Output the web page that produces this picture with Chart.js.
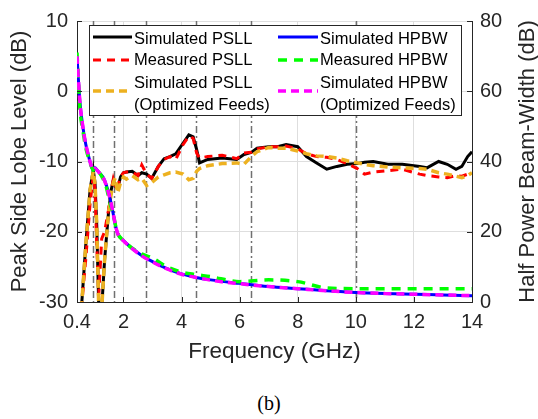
<!DOCTYPE html>
<html>
<head>
<meta charset="utf-8">
<script src="https://cdn.jsdelivr.net/npm/chart.js@4.4.1/dist/chart.umd.min.js"></script>
<style>
  html, body { margin: 0; padding: 0; background: #fff; }
  #wrap { position: absolute; left: 0; top: 0; width: 538px; height: 380px; }
  #caption { position: absolute; left: 0; top: 392px; width: 538px; text-align: center;
             font-family: "Liberation Serif", "DejaVu Serif", serif; font-size: 20px; color: #000; }
</style>
</head>
<body>
<div id="wrap"><canvas id="chart"></canvas></div>
<div id="caption">(b)</div>
<script>
// frequency axis (GHz)
const xTicks = [0.4, 2, 4, 6, 8, 10, 12, 14];
const psllTicks = [-30, -20, -10, 0, 10];
const hpbwTicks = [0, 20, 40, 60, 80];
const markerFreqs = [0.96, 1.66, 2.76, 4.5, 6.4, 10];

// PSLL series (dB)
const psllFreq = [0.55, 0.7, 0.85, 0.96, 1.02, 1.08, 1.15, 1.25, 1.35, 1.48, 1.58, 1.65, 1.72, 1.8, 1.9,
  2.0, 2.1, 2.3, 2.5, 2.63, 2.8, 2.97, 3.2, 3.4, 3.6, 3.8, 4.05, 4.25, 4.4, 4.52, 4.62, 4.9, 5.4,
  5.9, 6.15, 6.4, 6.6, 7.0, 7.3, 7.6, 8.0, 8.3, 8.65, 9.0, 9.35, 9.7, 10.05, 10.3, 10.6, 11.1,
  11.6, 12.2, 12.45, 12.85, 13.15, 13.45, 13.65, 13.85, 14];
const simPsll = [-31, -22, -14, -11.2, -13, -19, -31, -31, -24, -17.5, -14, -12.7, -13.5, -13.8, -12.2,
  -11.6, -11.5, -11.4, -12.0, -11.6, -11.8, -12.4, -10.7, -9.6, -9.3, -8.9, -7.4, -6.2, -6.5, -8.3, -10.2, -9.7, -9.5,
  -9.7, -9.0, -8.7, -8.1, -7.9, -7.9, -7.6, -7.9, -9.3, -10.2, -11.1, -10.7, -10.4, -10.3, -10.1, -10.0, -10.4,
  -10.4, -10.7, -10.9, -10.0, -10.4, -11.1, -10.7, -9.3, -8.6];
const measPsll = [-31, -24, -16, -12, -14, -22, -29, -21, -20, -17, -14, -12.5, -13.5, -13.5, -12.2,
  -11.6, -11.5, -11.5, -12.0, -10.5, -11.8, -12.4, -10.7, -9.7, -9.3, -9.7, -7.6, -6.4, -6.7, -8.8, -9.5, -9.3, -9.1,
  -9.6, -8.8, -8.7, -8.2, -7.9, -7.9, -7.8, -8.2, -8.9, -9.3, -9.4, -9.7, -10.3, -11.0, -11.8, -11.5, -11.3,
  -11.1, -11.8, -12.0, -12.2, -12.3, -12.0, -12.1, -11.8, -11.6];
const optPsll = [-31, -22, -14, -11.4, -13.2, -19, -31, -31, -24, -17.5, -14.5, -13.0, -12.3, -14.5, -13.0,
  -12.2, -12.5, -12.0, -12.6, -12.4, -13.4, -13.0, -12.2, -11.9, -11.6, -11.5, -11.8, -12.6, -12.4, -11.4, -11.0, -10.6, -10.3,
  -10.2, -10.4, -9.3, -8.6, -8.0, -8.1, -8.1, -8.5, -8.9, -9.2, -9.3, -9.5, -9.9, -10.2, -10.4, -10.6, -10.8,
  -10.9, -11.0, -11.1, -11.6, -11.8, -12.1, -12.3, -12.0, -11.6];

// HPBW series (deg)
const hpbwFreq = [0.4, 0.5, 0.6, 0.7, 0.8, 0.9, 0.96, 1.02, 1.1, 1.2, 1.3, 1.4, 1.54, 1.65, 1.72, 1.8,
  2.0, 2.3, 2.6, 3.0, 3.5, 4.0, 4.5, 5.0, 6.0, 7.0, 8.0, 9.0, 10.0, 11.0, 12.0, 13.0, 14.0];
const simHpbw = [70, 57, 50, 45, 41.5, 38.5, 37.5, 38.2, 37.5, 36.5, 35.5, 33.5, 29.4, 25, 22, 19.5,
  17.5, 15.3, 13.4, 11.5, 9.5, 8.0, 7.0, 6.3, 5.3, 4.4, 3.8, 3.2, 2.7, 2.4, 2.2, 2.0, 1.8];
const measHpbw = [71, 55, 49, 44, 41, 38.5, 37.5, 36.5, 37, 36.5, 35, 33, 28, 25, 22, 19.5,
  17.5, 15.3, 13.8, 12.5, 10, 8.5, 7.8, 7.2, 5.8, 6.3, 5.8, 4.0, 3.8, 3.8, 3.8, 3.8, 3.8];
const optHpbw = [70, 57, 50, 45, 41.5, 38.6, 37.6, 38.0, 37.4, 36.4, 35.4, 33.4, 29.3, 25, 22, 19.5,
  17.4, 15.2, 13.3, 11.4, 9.4, 7.9, 7.0, 6.2, 5.2, 4.4, 3.8, 3.2, 2.7, 2.4, 2.2, 2.0, 1.8];

const pts = (xs, ys) => xs.map((x, i) => ({ x: x, y: ys[i] }));
const axisColor = '#262626';
const sans = '"Liberation Sans", Arial, sans-serif';

const chartPlugin = {
  id: 'matlabDecor',
  beforeDatasetsDraw(chart) {
    const { ctx, chartArea: a, scales } = chart;
    ctx.save();
    ctx.beginPath();
    ctx.rect(a.left, a.top, a.right - a.left, a.bottom - a.top);
    ctx.clip();
    ctx.strokeStyle = '#707070';
    ctx.lineWidth = 1.5;
    ctx.setLineDash([7, 3, 2, 3]);
    markerFreqs.forEach(f => {
      const px = Math.round(scales.x.getPixelForValue(f)) + 0.5;
      ctx.beginPath();
      ctx.moveTo(px, a.top);
      ctx.lineTo(px, a.bottom);
      ctx.stroke();
    });
    ctx.restore();
  },
  afterDraw(chart) {
    const { ctx, chartArea: a, scales } = chart;
    ctx.save();
    // inward tick marks
    ctx.strokeStyle = axisColor;
    ctx.lineWidth = 1;
    xTicks.forEach(v => {
      const px = Math.round(scales.x.getPixelForValue(v)) + 0.5;
      ctx.beginPath(); ctx.moveTo(px, a.bottom); ctx.lineTo(px, a.bottom - 5); ctx.stroke();
    });
    psllTicks.forEach(v => {
      const py = Math.round(scales.y.getPixelForValue(v)) + 0.5;
      ctx.beginPath(); ctx.moveTo(a.left, py); ctx.lineTo(a.left + 5, py); ctx.stroke();
    });
    hpbwTicks.forEach(v => {
      const py = Math.round(scales.y1.getPixelForValue(v)) + 0.5;
      ctx.beginPath(); ctx.moveTo(a.right, py); ctx.lineTo(a.right - 5, py); ctx.stroke();
    });

    // right axis title, reading bottom to top
    ctx.fillStyle = axisColor;
    ctx.font = '22px ' + sans;
    ctx.textAlign = 'center';
    ctx.textBaseline = 'middle';
    ctx.translate(528, (a.top + a.bottom) / 2);
    ctx.rotate(-Math.PI / 2);
    ctx.fillText('Half Power Beam-Width (dB)', 0, 0);
    ctx.restore();

    // legend box
    ctx.save();
    const box = { l: 89.5, t: 25.5, r: 461.5, b: 115.5 };
    ctx.fillStyle = '#fff';
    ctx.fillRect(box.l, box.t, box.r - box.l, box.b - box.t);
    ctx.strokeStyle = '#262626';
    ctx.lineWidth = 1;
    ctx.strokeRect(box.l, box.t, box.r - box.l, box.b - box.t);
    const cols = [{ s0: 93, s1: 132, tx: 134 }, { s0: 278, s1: 318, tx: 320 }];
    const rows = [{ line: 37, text: [39] }, { line: 60, text: [60.5] }, { line: 91, text: [83, 105] }];
    ctx.font = '16.5px ' + sans;
    ctx.textAlign = 'left';
    ctx.textBaseline = 'middle';
    chart.data.datasets.forEach((ds, i) => {
      const c = cols[Math.floor(i / 3)], r = rows[i % 3];
      ctx.strokeStyle = ds.borderColor;
      ctx.lineWidth = ds.borderWidth;
      ctx.setLineDash(ds.borderDash || []);
      ctx.beginPath(); ctx.moveTo(c.s0, r.line); ctx.lineTo(c.s1, r.line); ctx.stroke();
      ctx.fillStyle = '#000';
      const lines = Array.isArray(ds.label) ? ds.label : [ds.label];
      lines.forEach((t, k) => ctx.fillText(t, c.tx, r.text[k]));
    });
    ctx.restore();
  }
};

new Chart(document.getElementById('chart'), {
  type: 'line',
  data: {
    datasets: [
      { label: 'Simulated PSLL', data: pts(psllFreq, simPsll), yAxisID: 'y',
        borderColor: '#000000', borderWidth: 3, order: 6 },
      { label: 'Measured PSLL', data: pts(psllFreq, measPsll), yAxisID: 'y',
        borderColor: '#ff0000', borderWidth: 3, borderDash: [8, 6], order: 5 },
      { label: ['Simulated PSLL', '(Optimized Feeds)'], data: pts(psllFreq, optPsll), yAxisID: 'y',
        borderColor: '#edb120', borderWidth: 3.5, borderDash: [8, 5], order: 4 },
      { label: 'Simulated HPBW', data: pts(hpbwFreq, simHpbw), yAxisID: 'y1',
        borderColor: '#0000ff', borderWidth: 3, order: 3, cubicInterpolationMode: 'monotone' },
      { label: 'Measured HPBW', data: pts(hpbwFreq, measHpbw), yAxisID: 'y1',
        borderColor: '#00ff00', borderWidth: 3.5, borderDash: [9, 7], order: 2, cubicInterpolationMode: 'monotone' },
      { label: ['Simulated HPBW', '(Optimized Feeds)'], data: pts(hpbwFreq, optHpbw), yAxisID: 'y1',
        borderColor: '#ff00ff', borderWidth: 3.5, borderDash: [8, 5], order: 1, cubicInterpolationMode: 'monotone' }
    ]
  },
  options: {
    responsive: true,
    maintainAspectRatio: false,
    animation: false,
    layout: { padding: { top: 15, left: 0, right: 0, bottom: 0 } },
    elements: { point: { radius: 0 }, line: { tension: 0 } },
    datasets: { line: { clip: 0 } },
    plugins: { legend: { display: false }, tooltip: { enabled: false } },
    scales: {
      x: {
        type: 'linear', min: 0.4, max: 14,
        afterBuildTicks: s => { s.ticks = xTicks.map(v => ({ value: v })); },
        afterFit: s => { s.height = 78; },
        grid: { color: '#dedede', drawTicks: false },
        border: { color: axisColor, width: 1 },
        ticks: { color: axisColor, font: { family: sans, size: 20 }, padding: 8, maxRotation: 0,
                 callback: v => String(v) },
        title: { display: true, text: 'Frequency (GHz)', color: axisColor,
                 font: { family: sans, size: 22.5 }, padding: { bottom: 15 } }
      },
      y: {
        position: 'left', min: -30, max: 10,
        afterBuildTicks: s => { s.ticks = psllTicks.map(v => ({ value: v })); },
        afterFit: s => { s.width = 77; },
        grid: { color: '#dedede', drawTicks: false },
        border: { color: axisColor, width: 1 },
        ticks: { color: axisColor, font: { family: sans, size: 20 }, padding: 9 },
        title: { display: true, text: 'Peak Side Lobe Level (dB)', color: axisColor,
                 font: { family: sans, size: 22 }, padding: { top: 7 } }
      },
      y1: {
        position: 'right', min: 0, max: 80,
        afterBuildTicks: s => { s.ticks = hpbwTicks.map(v => ({ value: v })); },
        afterFit: s => { s.width = 66; },
        grid: { display: false, drawTicks: false },
        border: { color: axisColor, width: 1 },
        ticks: { color: axisColor, font: { family: sans, size: 20 }, padding: 8 }
      }
    }
  },
  plugins: [chartPlugin]
});
</script>
</body>
</html>
